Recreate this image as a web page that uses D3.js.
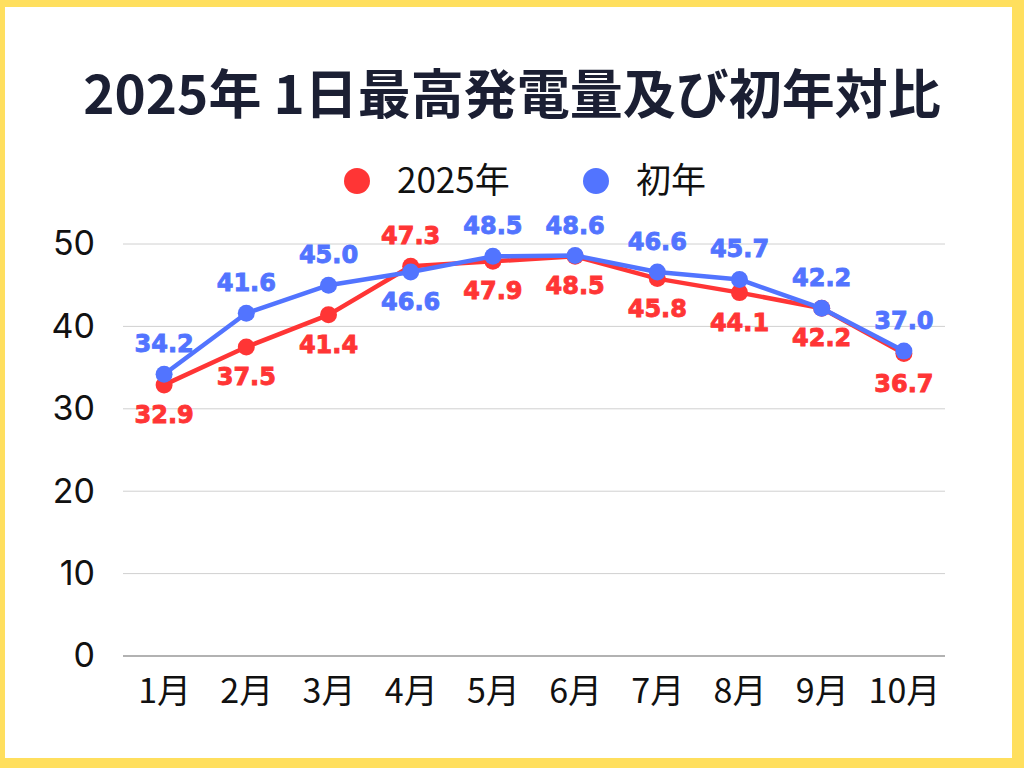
<!DOCTYPE html>
<html>
<head>
<meta charset="utf-8">
<script src="https://cdn.jsdelivr.net/npm/d3@7"></script>
<style>
  html, body { margin: 0; padding: 0; background: #FFDF5E; }
  svg { display: block; }
</style>
</head>
<body>
<svg id="chart" width="1024" height="768"></svg>
<script>
// data
const months = ["1月", "2月", "3月", "4月", "5月", "6月", "7月", "8月", "9月", "10月"];
const values2025 = [32.9, 37.5, 41.4, 47.3, 47.9, 48.5, 45.8, 44.1, 42.2, 36.7];
const valuesFirst = [34.2, 41.6, 45.0, 46.6, 48.5, 48.6, 46.6, 45.7, 42.2, 37.0];
const yTicks = [0, 10, 20, 30, 40, 50];
const seriesNames = ["2025年", "初年"];

const RED = "#FF3535", BLUE = "#5274FF";
const svg = d3.select("#chart");

// white card inside the yellow frame
svg.append("rect").attr("x", 5).attr("y", 7).attr("width", 1007).attr("height", 751).attr("fill", "#fff");

svg.append("text")
    .attr("x", 512).attr("y", 114)
    .attr("text-anchor", "middle")
    .attr("font-family", "'Noto Sans CJK JP', sans-serif")
    .attr("font-weight", 700)
    .attr("font-size", 53)
    .attr("fill", "#1B1F33")
    .text("2025年 1日最高発電量及び初年対比");

// legend
const legend = svg.append("g");
[[357, seriesNames[0], RED], [596, seriesNames[1], BLUE]].forEach(([lx, name, col]) => {
    legend.append("circle").attr("cx", lx).attr("cy", 181).attr("r", 13).attr("fill", col);
    legend.append("text").attr("x", lx + 40).attr("y", 193)
        .attr("font-family", "'Noto Sans CJK JP', sans-serif")
        .attr("font-size", 35).attr("fill", "#111").text(name);
});

const margin = { left: 123, right: 945, top: 244, bottom: 656 };
const x = d3.scalePoint().domain(months).range([margin.left, margin.right]).padding(0.5);
const y = d3.scaleLinear().domain([0, 50]).range([margin.bottom, margin.top]);

// grid
svg.append("g").selectAll("line").data(yTicks).join("line")
    .attr("x1", margin.left).attr("x2", margin.right)
    .attr("y1", d => y(d)).attr("y2", d => y(d))
    .attr("stroke", d => d === 0 ? "#999" : "#d0d0d0")
    .attr("stroke-width", d => d === 0 ? 1.5 : 1);

// y axis labels
svg.append("g")
    .attr("transform", `translate(${margin.left - 28},0)`)
    .call(d3.axisLeft(y).tickValues(yTicks).tickSize(0).tickPadding(0))
    .call(g => g.select(".domain").remove())
    .call(g => g.selectAll("text")
        .attr("font-family", "Inter, 'Noto Sans', sans-serif")
        .attr("font-size", 34).attr("fill", "#111"));

// x axis labels
svg.append("g")
    .attr("transform", `translate(0,${margin.bottom + 17})`)
    .call(d3.axisBottom(x).tickSize(0).tickPadding(0))
    .call(g => g.select(".domain").remove())
    .call(g => g.selectAll("text")
        .attr("dy", "0.88em")
        .attr("font-family", "'Noto Sans CJK JP', sans-serif")
        .attr("font-size", 34).attr("fill", "#111"));

const line = d3.line().x((d, i) => x(months[i])).y(d => y(d));

const series = [
    { vals: values2025, col: RED, other: valuesFirst, isBlue: false },
    { vals: valuesFirst, col: BLUE, other: values2025, isBlue: true }
];

series.forEach(s => {
    svg.append("path").datum(s.vals)
        .attr("d", line).attr("fill", "none")
        .attr("stroke", s.col).attr("stroke-width", 4.5).attr("stroke-linejoin", "round");
    svg.append("g").selectAll("circle").data(s.vals).join("circle")
        .attr("cx", (d, i) => x(months[i])).attr("cy", d => y(d))
        .attr("r", 8.5).attr("fill", s.col);
});

// value labels: higher series above, lower below (ties: blue above)
series.forEach(s => {
    svg.append("g").selectAll("text").data(s.vals).join("text")
        .attr("x", (d, i) => x(months[i]))
        .attr("y", (d, i) => {
            const above = d > s.other[i] || (d === s.other[i] && s.isBlue);
            return above ? y(d) - 22 : y(d) + 38;
        })
        .attr("text-anchor", "middle")
        .attr("font-family", "'DejaVu Sans', sans-serif")
        .attr("font-weight", 700)
        .attr("font-size", 24)
        .attr("fill", s.col)
        .attr("stroke", s.col)
        .attr("stroke-width", 0.9)
        .text(d => d.toFixed(1));
});
</script>
</body>
</html>
